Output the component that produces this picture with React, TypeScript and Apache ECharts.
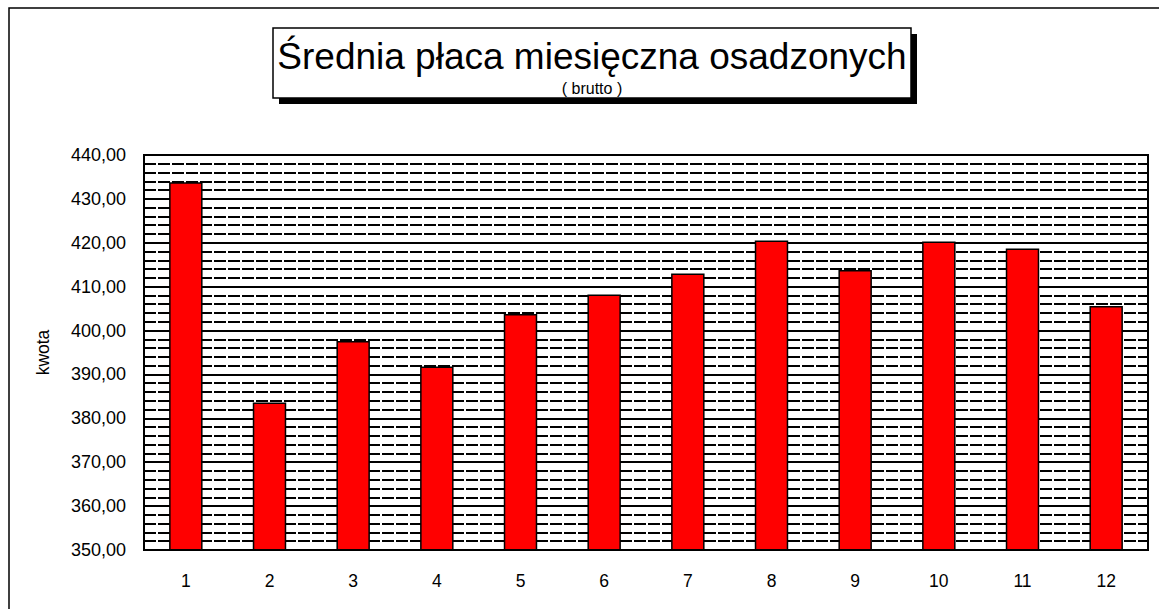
import React, { useEffect, useRef } from "react";
import * as echarts from "echarts";

const categories = ["1", "2", "3", "4", "5", "6", "7", "8", "9", "10", "11", "12"];
const values = [433.8, 383.6, 397.6, 391.8, 403.8, 408.2, 413.0, 420.5, 413.8, 420.3, 418.7, 405.6];
const titleText = "Średnia płaca miesięczna osadzonych";
const subtitleText = "( brutto )";
const yAxisName = "kwota";

const FONT = "'Liberation Sans', Arial, sans-serif";

export default function App() {
  const ref = useRef<HTMLDivElement>(null);
  useEffect(() => {
    if (!ref.current) return;
    const chart = echarts.init(ref.current, null, { renderer: "svg" });
    chart.setOption({
      animation: false,
      backgroundColor: "#ffffff",
      grid: { left: 144, right: 11, top: 155, height: 395, containLabel: false },
      xAxis: {
        type: "category",
        data: categories,
        axisLine: { show: true, lineStyle: { color: "#000", width: 2 } },
        axisTick: { show: true, inside: true, alignWithLabel: true, length: 4, lineStyle: { color: "#000" } },
        axisLabel: { color: "#000", fontFamily: FONT, fontSize: 17.5, margin: 22 },
        splitLine: { show: false },
      },
      yAxis: {
        type: "value",
        min: 350,
        max: 440,
        interval: 10,
        name: yAxisName,
        nameLocation: "middle",
        nameGap: 92,
        nameTextStyle: { color: "#000", fontFamily: FONT, fontSize: 17.5 },
        axisLine: { show: true, lineStyle: { color: "#000", width: 2 } },
        axisTick: { show: false },
        axisLabel: {
          color: "#000",
          fontFamily: FONT,
          fontSize: 18,
          margin: 18,
          formatter: (v: number) => v.toFixed(2).replace(".", ","),
        },
        splitLine: { show: true, lineStyle: { color: "#000", width: 1.8, type: "solid" } },
        minorTick: { show: false, splitNumber: 5 },
        minorSplitLine: { show: true, lineStyle: { color: "#000", width: 1.8, type: [12, 2] } },
      },
      series: [
        {
          type: "bar",
          data: values,
          barWidth: "40%",
          itemStyle: { color: "#ff0000", borderColor: "#000", borderWidth: 1.5 },
        },
      ],
      graphic: [
        {
          type: "rect",
          silent: true,
          shape: { x: 9, y: 8, width: 1200, height: 700 },
          style: { fill: "none", stroke: "#000", lineWidth: 1.5 },
          z: 100,
        },
        {
          type: "rect",
          silent: true,
          shape: { x: 144, y: 155, width: 1004, height: 395 },
          style: { fill: "none", stroke: "#000", lineWidth: 2 },
          z: 100,
        },
        {
          type: "rect",
          shape: { x: 279, y: 34, width: 638, height: 70 },
          style: { fill: "#000" },
          z: 100,
        },
        {
          type: "rect",
          shape: { x: 273, y: 28, width: 638, height: 70 },
          style: { fill: "#fff", stroke: "#000", lineWidth: 1.5 },
          z: 101,
        },
        {
          type: "text",
          x: 592,
          y: 56,
          style: {
            text: titleText,
            fontFamily: FONT,
            fontSize: 37,
            fill: "#000",
            align: "center",
            verticalAlign: "middle",
          },
          z: 102,
        },
        {
          type: "text",
          x: 592,
          y: 88,
          style: {
            text: subtitleText,
            fontFamily: FONT,
            fontSize: 16,
            fill: "#000",
            align: "center",
            verticalAlign: "middle",
          },
          z: 102,
        },
      ],
    });
    return () => chart.dispose();
  }, []);
  return (
    <div
      ref={ref}
      style={{ position: "fixed", left: 0, top: 0, width: 1159, height: 609 }}
    />
  );
}
